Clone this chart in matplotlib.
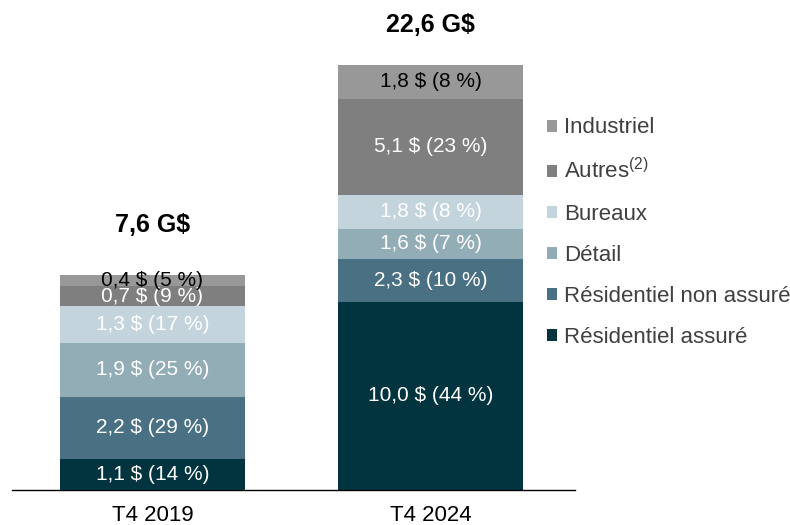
import matplotlib
matplotlib.use("Agg")
import matplotlib.pyplot as plt
from matplotlib.patches import Patch

plt.rcParams["font.family"] = ["Liberation Sans", "DejaVu Sans"]
plt.rcParams["mathtext.fontset"] = "custom"
plt.rcParams["mathtext.rm"] = "Liberation Sans"

# données
periods = ["T4 2019", "T4 2024"]
categories = ["Résidentiel assuré", "Résidentiel non assuré", "Détail", "Bureaux",
              "Autres$^{\\mathregular{(2)}}$", "Industriel"]
values_2019 = [1.1, 2.2, 1.9, 1.3, 0.7, 0.4]
values_2024 = [10.0, 2.3, 1.6, 1.8, 5.1, 1.8]
pct_2019 = [14, 29, 25, 17, 9, 5]
pct_2024 = [44, 10, 7, 8, 23, 8]
totals = ["7,6 G$", "22,6 G$"]

colors = ["#023440", "#4a7083", "#93adb7", "#c3d4dc", "#7f7f7f", "#989898"]
label_colors_2019 = ["white", "white", "white", "white", "white", "black"]
label_colors_2024 = ["white", "white", "white", "white", "white", "black"]

fig = plt.figure(figsize=(7.9, 5.25), dpi=100)
ax = fig.add_axes([0.0152, 0.0667, 0.713, 0.8095])
# la barre 2019 est dessinée sur sa propre échelle (comme dans l'original)
ax2 = ax.twinx()

bars = [(ax2, 0, values_2019, pct_2019, label_colors_2019, 15.02),
        (ax, 1, values_2024, pct_2024, label_colors_2024, 22.6)]

width = 0.665
for a, x, vals, pcts, lcols, top in bars:
    bottom = 0.0
    for v, p, c, lc in zip(vals, pcts, colors, lcols):
        a.bar(x, v, width, bottom=bottom, color=c, edgecolor="none")
        txt = "{} $ ({} %)".format(("%.1f" % v).replace(".", ","), p)
        a.text(x, bottom + v / 2, txt, ha="center", va="center",
               color=lc, fontsize=15)
        bottom += v
    a.set_ylim(0, top)

ax.annotate(totals[0], xy=(0, sum(values_2019)), xycoords=ax2.transData,
            xytext=(0, 36), textcoords="offset points", ha="center", va="center",
            fontsize=18, fontweight="bold")
ax.annotate(totals[1], xy=(1, sum(values_2024)), xytext=(0, 29),
            textcoords="offset points", ha="center", va="center",
            fontsize=18, fontweight="bold")

for a in (ax, ax2):
    a.set_xlim(-0.505, 1.52)
    a.set_yticks([])
    for s in ["top", "right", "left"]:
        a.spines[s].set_visible(False)
ax2.spines["bottom"].set_visible(False)
ax.spines["bottom"].set_color("black")
ax.spines["bottom"].set_linewidth(1.0)
ax.set_xticks([0, 1])
ax.set_xticklabels(periods, fontsize=16)
ax.tick_params(axis="x", length=0, pad=11)

handles = [Patch(facecolor=c, edgecolor="none") for c in colors][::-1]
fig.legend(handles, categories[::-1], loc="center left",
           bbox_to_anchor=(0.693, 0.557), frameon=False, fontsize=16,
           handlelength=0.45, handleheight=0.45, handletextpad=0.3,
           labelspacing=0.9, borderpad=0, borderaxespad=0,
           labelcolor="#404040")

fig.savefig("out.png", dpi=100)
